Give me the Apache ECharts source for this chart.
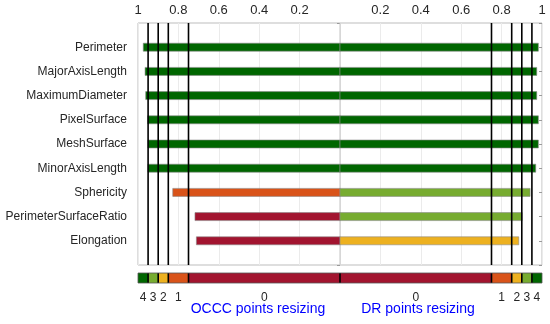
<!DOCTYPE html>
<html><head><meta charset="utf-8">
<script src="https://cdn.jsdelivr.net/npm/echarts@6/dist/echarts.min.js"></script>
<style>html,body{margin:0;padding:0;background:#fff}#c{width:550px;height:324px}</style>
</head><body><div id="c"></div>
<script>
const categories = ['Perimeter','MajorAxisLength','MaximumDiameter','PixelSurface','MeshSurface','MinorAxisLength','Sphericity','PerimeterSurfaceRatio','Elongation'];
const occcValues = [0.974, 0.965, 0.962, 0.952, 0.951, 0.951, 0.828, 0.718, 0.711];
const drValues   = [0.982, 0.974, 0.974, 0.982, 0.982, 0.969, 0.941, 0.902, 0.885];
const thresholds = [0.75, 0.85, 0.9, 0.95];
const classLabels = ['0','1','2','3','4'];
const classColors = ['#a2142f','#d95319','#edb120','#77ac30','#006600'];
const sideTitles = ['OCCC points resizing','DR points resizing'];

function cls(v){ let k=0; thresholds.forEach(t=>{ if(v>=t) k++; }); return k; }

const barData = categories.map((c,i)=>[i+1, occcValues[i], drValues[i]]);
const lineData = thresholds.flatMap(t=>[-t,t]);
// colour bar segments
const bounds = [-1, ...thresholds.slice().reverse().map(t=>-t), 0, ...thresholds, 1];
const segData = [];
for(let i=0;i<bounds.length-1;i++){
  const a=bounds[i], b=bounds[i+1];
  const lo=Math.min(Math.abs(a),Math.abs(b));
  segData.push([a,b,cls(lo+1e-9)]);
}

const chart = echarts.init(document.getElementById('c'));
const txt = '#262626';
const ff = 'Liberation Sans, Arial, sans-serif';
chart.setOption({
  animation:false,
  textStyle:{fontFamily:ff},
  grid:[
    {left:138, right:8, top:23, bottom:59, show:true, borderColor:'#bdbdbd', borderWidth:1, containLabel:false},
    {left:138, right:8, top:273, height:10, containLabel:false}
  ],
  xAxis:[
    {gridIndex:0, type:'value', position:'top', min:-1, max:1, interval:0.2,
     axisLine:{show:false}, axisTick:{show:false},
     axisLabel:{color:txt, fontSize:13, margin:6, formatter:v=> Math.abs(v)<1e-9 ? '' : String(parseFloat(Math.abs(v).toFixed(1)))},
     splitLine:{show:true, lineStyle:{color:'#ebebeb', width:1}}},
    {gridIndex:1, type:'value', min:-1, max:1, show:false}
  ],
  yAxis:[
    {gridIndex:0, type:'value', min:0, max:10, interval:1, inverse:true,
     axisLine:{show:false}, axisTick:{show:true, inside:false, length:3, lineStyle:{color:'#9a9a9a'}},
     axisLabel:{color:txt, fontSize:12, margin:11, formatter:v=> categories[v-1] || ''},
     splitLine:{show:false}},
    {gridIndex:0, type:'value', min:0, max:10, interval:1, inverse:true, position:'right',
     axisLine:{show:false}, axisTick:{show:true, inside:true, length:3, lineStyle:{color:'#9a9a9a'}},
     axisLabel:{show:false}, splitLine:{show:false}},
    {gridIndex:1, type:'value', min:0, max:1, show:false}
  ],
  series:[
    { // centre line
      type:'custom', xAxisIndex:0, yAxisIndex:0, z:1, silent:true,
      data:[[0]],
      renderItem:(p,api)=>{
        const a=api.coord([api.value(0),0]), b=api.coord([api.value(0),10]);
        return {type:'line', shape:{x1:a[0],y1:a[1],x2:b[0],y2:b[1]}, style:{stroke:'#c4c4c4', lineWidth:1}};
      }
    },
    { // bars
      type:'custom', xAxisIndex:0, yAxisIndex:0, z:2, silent:true,
      encode:{x:[1,2], y:0},
      data:barData,
      renderItem:(p,api)=>{
        const y=api.value(0), l=api.value(1), r=api.value(2);
        const h=8;
        const a=api.coord([-l,y]), m=api.coord([0,y]), b=api.coord([r,y]);
        return {type:'group', children:[
          {type:'rect', shape:{x:a[0], y:a[1]-h/2, width:m[0]-a[0], height:h}, style:{fill:classColors[cls(l)], stroke:'#8a8a8a', lineWidth:0.6}},
          {type:'rect', shape:{x:m[0], y:m[1]-h/2, width:b[0]-m[0], height:h}, style:{fill:classColors[cls(r)], stroke:'#8a8a8a', lineWidth:0.6}}
        ]};
      }
    },
    { // threshold lines
      type:'custom', xAxisIndex:0, yAxisIndex:0, z:5, silent:true,
      data:lineData.map(v=>[v]),
      renderItem:(p,api)=>{
        const a=api.coord([api.value(0),0]), b=api.coord([api.value(0),10]);
        return {type:'line', shape:{x1:a[0],y1:a[1],x2:b[0],y2:b[1]}, style:{stroke:'#000', lineWidth:1.6}};
      }
    },
    { // colour bar segments
      type:'custom', xAxisIndex:1, yAxisIndex:2, z:2, silent:true,
      data:segData,
      renderItem:(p,api)=>{
        const a=api.coord([api.value(0),1]), b=api.coord([api.value(1),0]);
        const k=api.value(2);
        return {type:'group', children:[
          {type:'rect', shape:{x:a[0], y:a[1], width:b[0]-a[0], height:b[1]-a[1]}, style:{fill:classColors[k]}},
          {type:'text', style:{text:classLabels[k], x:(a[0]+b[0])/2, y:b[1]+15, align:'center', verticalAlign:'middle', fill:txt, fontSize:12, fontFamily:ff}}
        ]};
      }
    },
    { // colour bar separators
      type:'custom', xAxisIndex:1, yAxisIndex:2, z:4, silent:true,
      data:[...lineData, 0].map(v=>[v]),
      renderItem:(p,api)=>{
        const a=api.coord([api.value(0),1]), b=api.coord([api.value(0),0]);
        return {type:'line', shape:{x1:a[0],y1:a[1],x2:b[0],y2:b[1]}, style:{stroke:'#000', lineWidth:1.6}};
      }
    },
    { // colour bar frame
      type:'custom', xAxisIndex:1, yAxisIndex:2, z:5, silent:true,
      data:[[-1,1]],
      renderItem:(p,api)=>{
        const a=api.coord([api.value(0),1]), b=api.coord([api.value(1),0]);
        return {type:'rect', shape:{x:a[0], y:a[1], width:b[0]-a[0], height:b[1]-a[1]}, style:{fill:'none', stroke:'#555', lineWidth:0.8}};
      }
    }
  ],
  graphic:[
    {type:'text', x:258, y:309, style:{text:sideTitles[0], fill:'#0000ff', fontSize:14, align:'center', verticalAlign:'middle', fontFamily:ff}},
    {type:'text', x:418, y:309, style:{text:sideTitles[1], fill:'#0000ff', fontSize:14, align:'center', verticalAlign:'middle', fontFamily:ff}}
  ]
});
</script></body></html>
